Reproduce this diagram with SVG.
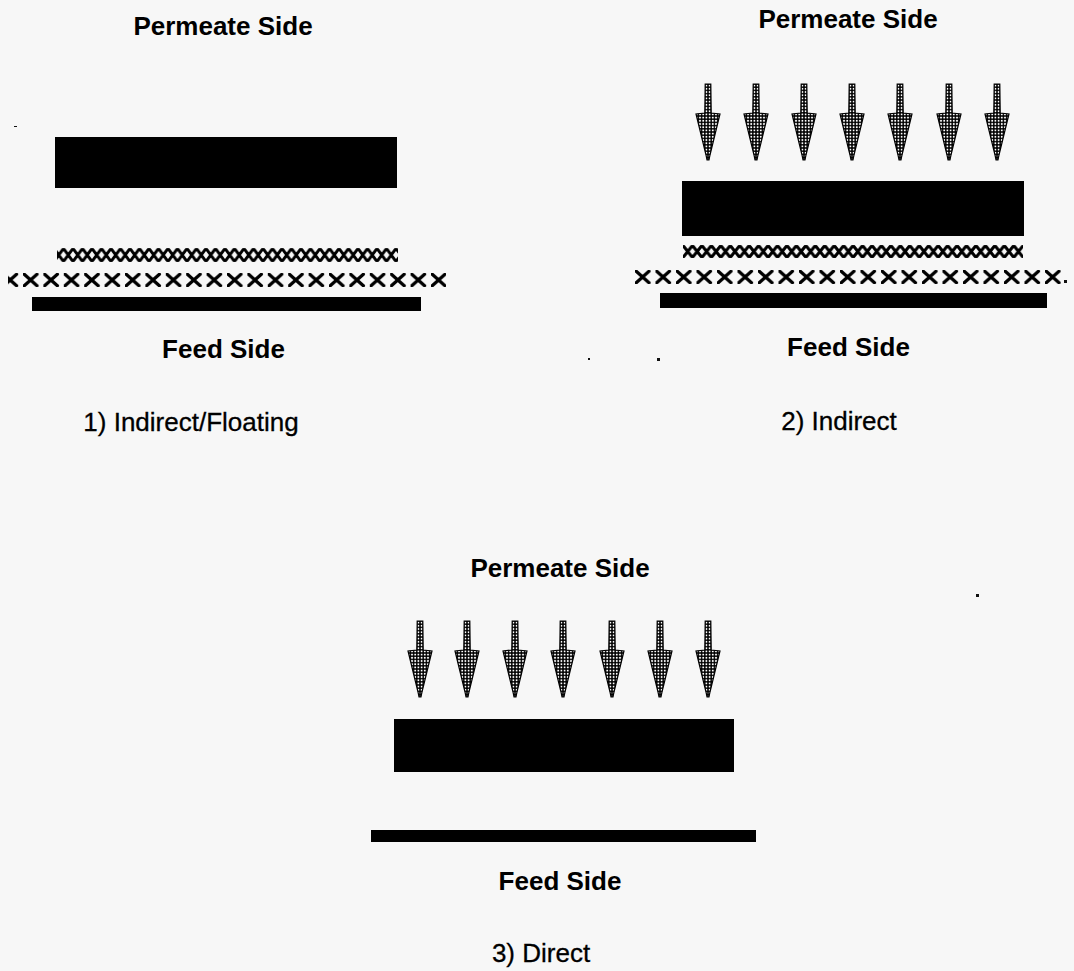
<svg xmlns="http://www.w3.org/2000/svg" width="1074" height="971" viewBox="0 0 1074 971">
  <style>
    .lbl { font-family: "Liberation Sans", Arial, sans-serif; font-weight: bold; font-size: 26px; fill: #000; text-anchor: middle; }
    .cap { font-family: "Liberation Sans", Arial, sans-serif; font-size: 26px; fill: #000; text-anchor: middle; stroke: #000; stroke-width: 0.3; }
    .bar { fill: #000; }
    .dot { fill: #111; }
  </style>
  <defs>
    <pattern id="stipple" width="3.2" height="3.2" patternUnits="userSpaceOnUse">
      <rect width="3.2" height="3.2" fill="#000"/>
      <circle cx="1.6" cy="1.6" r="1.0" fill="#fff"/>
    </pattern>
    <pattern id="bigX1" x="2.6" y="273" width="20.4" height="14" patternUnits="userSpaceOnUse">
      <path d="M1.2 1.2 L14 12.8 M14 1.2 L1.2 12.8" stroke="#000" stroke-width="3.2" stroke-linecap="round" fill="none"/>
    </pattern>
    <pattern id="bigX2" x="635" y="270" width="20.5" height="14" patternUnits="userSpaceOnUse">
      <path d="M1.2 1.2 L14 12.8 M14 1.2 L1.2 12.8" stroke="#000" stroke-width="3.2" stroke-linecap="round" fill="none"/>
    </pattern>
    <pattern id="smallX1" x="54" y="248" width="9.5" height="14" patternUnits="userSpaceOnUse">
      <path d="M0.8 1.6 L8.7 12.4 M8.7 1.6 L0.8 12.4" stroke="#000" stroke-width="3" stroke-linecap="round" fill="none"/>
    </pattern>
    <pattern id="smallX2" x="683" y="245" width="9.45" height="13" patternUnits="userSpaceOnUse">
      <path d="M0.8 1.5 L8.7 11.5 M8.7 1.5 L0.8 11.5" stroke="#000" stroke-width="3" stroke-linecap="round" fill="none"/>
    </pattern>
    <symbol id="arrow" overflow="visible">
      <path d="M-2.8 0 L2.8 0 L3.2 29 L12 30 L2 71 L1 76 L-1 76 L-2 71 L-12 30 L-3.2 29 Z" fill="url(#stipple)" stroke="#000" stroke-width="1.2"/>
    </symbol>
  </defs>
  <rect width="1074" height="971" fill="#f7f7f7"/>

  <g id="panel1">
    <text class="lbl" x="223" y="35">Permeate Side</text>
    <rect class="bar" x="55" y="137" width="342" height="51"/>
    <rect x="57" y="248" width="341" height="14" fill="url(#smallX1)"/>
    <rect x="8" y="273" width="438" height="14" fill="url(#bigX1)"/>
    <rect class="bar" x="32" y="297" width="389" height="14"/>
    <text class="lbl" x="223.5" y="358">Feed Side</text>
    <text class="cap" x="191" y="431">1) Indirect/Floating</text>
  </g>

  <g id="panel2">
    <text class="lbl" x="848" y="28">Permeate Side</text>
    <rect class="bar" x="682" y="181" width="342" height="55"/>
    <rect x="683" y="245" width="340" height="13" fill="url(#smallX2)"/>
    <rect x="635" y="270" width="426" height="14" fill="url(#bigX2)"/>
    <rect class="dot" x="1064" y="280" width="3" height="3"/>
    <rect class="bar" x="660" y="293" width="387" height="15"/>
    <text class="lbl" x="848.5" y="356">Feed Side</text>
    <text class="cap" x="839" y="430">2) Indirect</text>
  </g>

  <g id="panel3">
    <text class="lbl" x="560" y="577">Permeate Side</text>
    <rect class="bar" x="394" y="719" width="340" height="53"/>
    <rect class="bar" x="371" y="830" width="385" height="12"/>
    <text class="lbl" x="560" y="890">Feed Side</text>
    <text class="cap" x="541" y="962">3) Direct</text>
  </g>

  <g id="connectors">
    <use href="#arrow" x="708" y="84"/>
    <use href="#arrow" x="756" y="84"/>
    <use href="#arrow" x="804" y="84"/>
    <use href="#arrow" x="852" y="84"/>
    <use href="#arrow" x="900" y="84"/>
    <use href="#arrow" x="949" y="84"/>
    <use href="#arrow" x="997" y="84"/>
    <use href="#arrow" x="420" y="621"/>
    <use href="#arrow" x="467" y="621"/>
    <use href="#arrow" x="515" y="621"/>
    <use href="#arrow" x="563" y="621"/>
    <use href="#arrow" x="612" y="621"/>
    <use href="#arrow" x="660" y="621"/>
    <use href="#arrow" x="708" y="621"/>
  </g>

  <g id="specks">
    <rect class="dot" x="588" y="358" width="2" height="2"/>
    <rect class="dot" x="657" y="358" width="3" height="3"/>
    <rect class="dot" x="976" y="594" width="3" height="3"/>
    <rect class="dot" x="14" y="126" width="3" height="1"/>
  </g>
</svg>
